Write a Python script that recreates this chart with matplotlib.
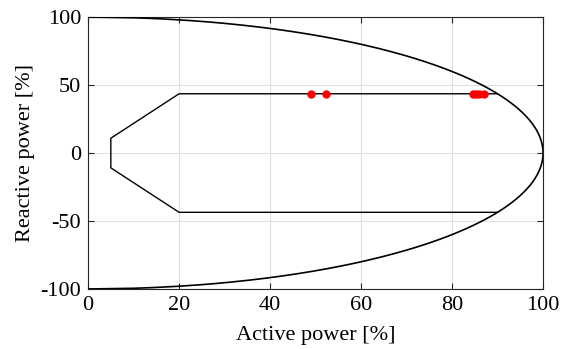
import numpy as np
import matplotlib.pyplot as plt

# capability curve limits (percent)
q_circle = np.linspace(-100, 100, 401)
p_circle = np.sqrt(100**2 - q_circle**2)

# operating area polygon (P, Q)
area_p = [90.0, 20.0, 5.0, 5.0, 20.0, 90.0]
area_q = [43.6, 43.6, 10.9, -10.9, -43.6, -43.6]

# measured operating points
points_p = [49.1, 52.2, 84.5, 85.3, 86.0, 87.0]
points_q = [43.6, 43.6, 43.6, 43.6, 43.6, 43.6]

plt.rcParams["font.family"] = ["Liberation Serif", "DejaVu Serif"]
plt.rcParams["axes.unicode_minus"] = False

fig = plt.figure(figsize=(5.61, 3.49), dpi=100)
ax = fig.add_axes([0.157, 0.172, 0.811, 0.779])

ax.plot(p_circle, q_circle, color="black", lw=1.2, zorder=3)
ax.plot(area_p, area_q, color="black", lw=1.0, zorder=3)
ax.plot(points_p, points_q, "o", color="red", ms=5, zorder=4)

ax.set_xlim(0, 100)
ax.set_ylim(-100, 100)
ax.set_xticks([0, 20, 40, 60, 80, 100])
ax.set_yticks([-100, -50, 0, 50, 100])
ax.grid(True, color="#e0e0e0", lw=0.8)
ax.set_axisbelow(True)
ax.tick_params(direction="in", top=True, right=True, labelsize=16, color="#262626", length=4, pad=5)
for s in ax.spines.values():
    s.set_color("#262626")
    s.set_linewidth(0.8)

ax.set_xlabel("Active power [%]", fontsize=16, labelpad=8)
ax.set_ylabel("Reactive power [%]", fontsize=16, labelpad=4)

fig.savefig("out.png", dpi=100)
